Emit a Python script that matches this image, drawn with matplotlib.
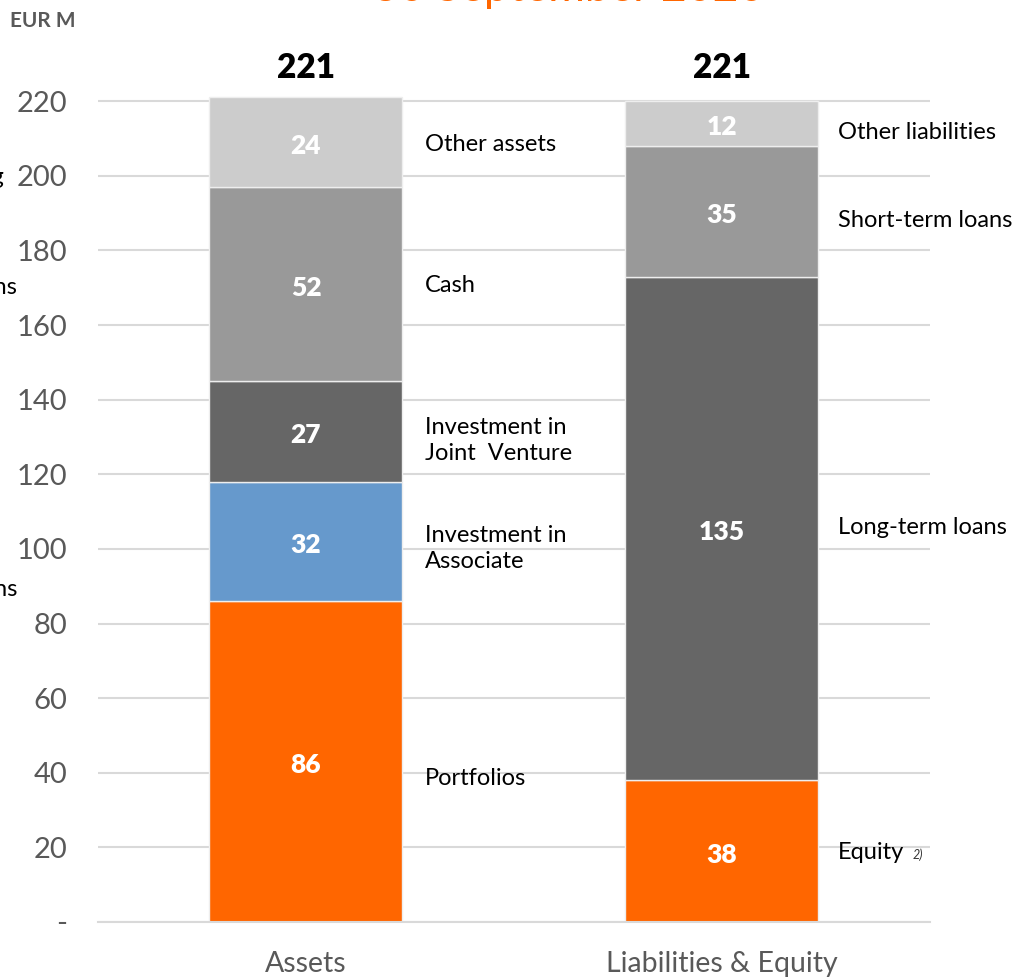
import matplotlib.pyplot as plt
import numpy as np

plt.rcParams['font.family'] = ['Lato', 'DejaVu Sans']

# 资产负债结构 (EUR M)
categories = ['Assets', 'Liabilities & Equity']
totals = [221, 221]

asset_items = ['Portfolios', 'Investment in\nAssociate', 'Investment in\nJoint  Venture',
               'Cash', 'Other assets']
asset_values = [86, 32, 27, 52, 24]

liab_items = ['Equity', 'Long-term loans', 'Short-term loans', 'Other liabilities']
liab_values = [38, 135, 35, 12]

yticks = [0, 20, 40, 60, 80, 100, 120, 140, 160, 180, 200, 220]
ytick_labels = ['-'] + [str(v) for v in yticks[1:]]

ORANGE = '#FF6600'
asset_colors = [ORANGE, '#6699CC', '#666666', '#999999', '#CCCCCC']
liab_colors = [ORANGE, '#666666', '#999999', '#CCCCCC']
# 侧边标签的微调 (数据单位)
asset_nudge = [-4.5, -2, -2.5, -0.5, -0.5]
liab_nudge = [-0.3, 0.3, -2.5, -2.5]

fig = plt.figure(figsize=(10.25, 9.8), dpi=100)
ax = fig.add_axes([0.0956, 0.0592, 0.8117, 0.8566])

width = 0.464


def stack(ax, x, values, colors, labels, nudge, label_x):
    bottom = 0
    for v, c, lab, dy in zip(values, colors, labels, nudge):
        ax.bar(x, v, width, bottom=bottom, color=c, edgecolor='#EEEEEE',
               linewidth=1, zorder=2)
        mid = bottom + v / 2
        ax.text(x, mid - 1, str(v), ha='center', va='center', color='white',
                fontsize=19, fontweight='heavy', zorder=3)
        ax.text(label_x, mid + dy, lab, ha='left', va='center', color='black',
                fontsize=17, linespacing=1.3)
        bottom += v


stack(ax, 0, asset_values, asset_colors, asset_items, asset_nudge, 0.286)
stack(ax, 1, liab_values, liab_colors, liab_items, liab_nudge, 1.279)

# Equity 脚注
ax.annotate('2)', xy=(1.279, liab_values[0] / 2 + liab_nudge[0]), xycoords='data',
            xytext=(54, -2), textcoords='offset points', fontsize=9,
            style='italic', color='#333333', va='center')

for x, t in zip(range(len(categories)), totals):
    ax.text(x, 229, str(t), ha='center', va='center', fontsize=24,
            fontweight='heavy', color='black', clip_on=False)

ax.set_xlim(-0.5, 1.5)
ax.set_ylim(0, 225)
ax.set_yticks(yticks)
ax.set_yticklabels(ytick_labels)
ax.set_xticks(range(len(categories)))
ax.set_xticklabels(categories)
ax.tick_params(axis='both', length=0, labelcolor='#595959')
ax.tick_params(axis='y', pad=22, labelsize=21)
ax.tick_params(axis='x', pad=21, labelsize=20.5)
ax.yaxis.grid(True, color='#D9D9D9', linewidth=1.5, zorder=0)
ax.set_axisbelow(True)
for s in ['top', 'right', 'left']:
    ax.spines[s].set_visible(False)
ax.spines['bottom'].set_color('#D9D9D9')
ax.spines['bottom'].set_linewidth(1.5)

fig.text(0.01, 0.979, 'EUR M', fontsize=15, fontweight='bold', color='#595959',
         ha='left', va='center')
fig.text(0.555, 1 - 1 / 980, '30 September 2020', fontsize=32, color=ORANGE,
         ha='center', va='baseline')

# 左侧被截断的相邻图表文字
fig.text(17 / 1025, 1 - 287 / 980, 'Long-term loans', fontsize=17, ha='right',
         va='center', color='black')
fig.text(17 / 1025, 1 - 590 / 980, 'Short-term loans', fontsize=17, ha='right',
         va='center', color='black')
fig.text(5 / 1025, 1 - 178 / 980, 'Borrowing', fontsize=17, ha='right',
         va='center', color='black')

fig.savefig('out.png', dpi=100, facecolor='white')
